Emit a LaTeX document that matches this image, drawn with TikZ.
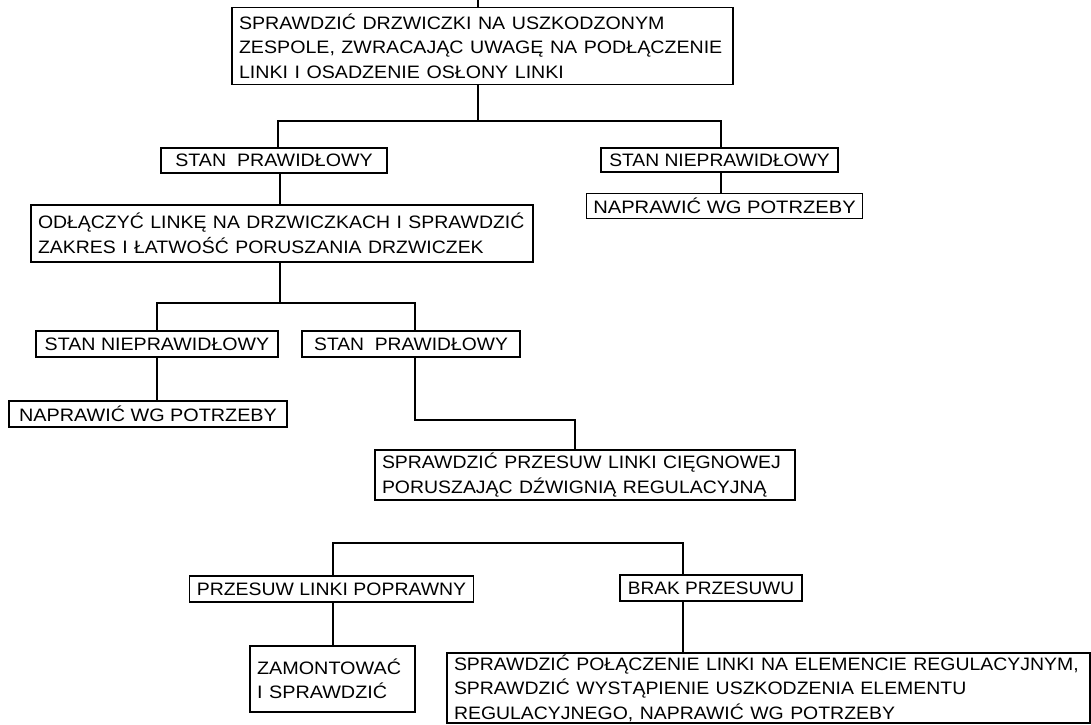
\documentclass[tikz,border=0pt]{standalone}
\usepackage{fontspec}
\setmainfont{Liberation Sans}
% horizontally scaled line of text
\newcommand\hs[2]{\scalebox{#1}[1]{#2}}
\begin{document}
\begin{tikzpicture}[x=1pt,y=-1pt,line width=1.1pt,
  box/.style={draw,inner xsep=7pt,inner ysep=0pt,anchor=center,
    font=\fontsize{18}{24.5}\selectfont},
  multi/.style={box,align=left}]
\useasboundingbox (0,0) rectangle (1091,724);

% boxes
\node[multi,text width=487pt,minimum height=77pt] (top) at (482.5,46)
  {\hs{1.09}{SPRAWDZIĆ DRZWICZKI NA USZKODZONYM}\\
   \hs{1.09}{ZESPOLE, ZWRACAJĄC UWAGĘ NA PODŁĄCZENIE}\\
   \hs{1.09}{LINKI I OSADZENIE OSŁONY LINKI}};
\node[box,minimum width=226pt,minimum height=25pt] (ok1) at (274,160.5)
  {\hs{1.09}{STAN\ \ PRAWIDŁOWY}};
\node[box,minimum width=237pt,minimum height=24pt] (bad1) at (719.5,160)
  {\hs{1.07}{STAN NIEPRAWIDŁOWY}};
\node[box,minimum width=266pt,minimum height=25pt] (fix1) at (724.5,206)
  {\hs{1.12}{NAPRAWIĆ WG POTRZEBY}};
\node[multi,text width=488pt,minimum height=57pt] (detach) at (282,233.5)
  {\hs{1.08}{ODŁĄCZYĆ LINKĘ NA DRZWICZKACH I SPRAWDZIĆ}\\
   \hs{1.08}{ZAKRES I ŁATWOŚĆ PORUSZANIA DRZWICZEK}};
\node[box,minimum width=242pt,minimum height=26pt] (bad2) at (157,344)
  {\hs{1.09}{STAN NIEPRAWIDŁOWY}};
\node[box,minimum width=218pt,minimum height=26pt] (ok2) at (411,344)
  {\hs{1.07}{STAN\ \ PRAWIDŁOWY}};
\node[box,minimum width=278pt,minimum height=26pt] (fix2) at (148,414)
  {\hs{1.10}{NAPRAWIĆ WG POTRZEBY}};
\node[multi,text width=406pt,minimum height=50pt] (travel) at (585,475)
  {\hs{1.08}{SPRAWDZIĆ PRZESUW LINKI CIĘGNOWEJ}\\
   \hs{1.08}{PORUSZAJĄC DŹWIGNIĄ REGULACYJNĄ}};
\node[box,minimum width=283pt,minimum height=26pt] (good) at (331.5,589)
  {\hs{1.08}{PRZESUW LINKI POPRAWNY}};
\node[box,minimum width=182pt,minimum height=26pt] (none) at (711,588)
  {\hs{1.06}{BRAK PRZESUWU}};
\node[multi,text width=151pt,minimum height=66pt] (mount) at (332.5,679)
  {\hs{1.10}{ZAMONTOWAĆ}\\
   \hs{1.10}{I SPRAWDZIĆ}};
\node[multi,text width=629pt,minimum height=70pt] (check) at (768.5,688)
  {\hs{1.08}{SPRAWDZIĆ POŁĄCZENIE LINKI NA ELEMENCIE REGULACYJNYM,}\\
   \hs{1.08}{SPRAWDZIĆ WYSTĄPIENIE USZKODZENIA ELEMENTU}\\
   \hs{1.08}{REGULACYJNEGO, NAPRAWIĆ WG POTRZEBY}};

% junction points of the connectors
\coordinate (in)  at (478,0);
\coordinate (j1)  at (478,121);
\coordinate (x1l) at (278,0);
\coordinate (x1r) at (721,0);
\coordinate (x2)  at (280,0);
\coordinate (j2)  at (280,303);
\coordinate (x3l) at (157,0);
\coordinate (x3r) at (415,0);
\coordinate (j3)  at (415,420);
\coordinate (x4)  at (575,0);
\coordinate (j4l) at (333,543);
\coordinate (j4r) at (683,543);

% connectors
\draw (in) -- (in |- top.north);
\draw (top.south -| j1) -- (j1);
\draw (ok1.north -| x1l) |- (j1) -| (bad1.north -| x1r);
\draw (bad1.south -| x1r) -- (fix1.north -| x1r);
\draw (ok1.south -| x2) -- (detach.north -| x2);
\draw (detach.south -| x2) -- (j2);
\draw (bad2.north -| x3l) |- (j2) -| (ok2.north -| x3r);
\draw (bad2.south -| x3l) -- (fix2.north -| x3l);
\draw (ok2.south -| x3r) -- (j3) -| (travel.north -| x4);
\draw (good.north -| j4l) -- (j4l) -- (j4r) -- (none.north -| j4r);
\draw (good.south -| j4l) -- (mount.north -| j4l);
\draw (none.south -| j4r) -- (check.north -| j4r);
\end{tikzpicture}
\end{document}
